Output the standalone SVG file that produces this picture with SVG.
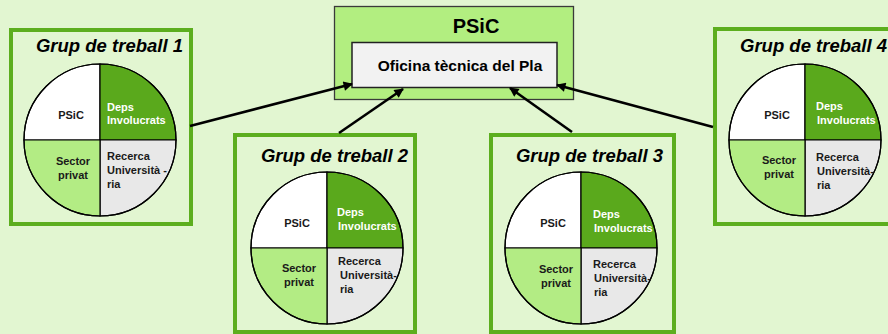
<svg xmlns="http://www.w3.org/2000/svg" width="888" height="334" viewBox="0 0 888 334">
<defs>
<style>
.grp{fill:none;stroke:#5cae1e;stroke-width:4}
.title{font-family:"Liberation Sans",Arial,sans-serif;font-weight:bold;font-style:italic;font-size:18.5px;fill:#000}
.lbl{font-family:"Liberation Sans",Arial,sans-serif;font-weight:bold;font-size:11px;fill:#1a1a1a}
.lblw{font-family:"Liberation Sans",Arial,sans-serif;font-weight:bold;font-size:11px;fill:#fff}
.q{stroke:#000;stroke-width:1.2}
.conn{stroke:#000;stroke-width:2.6;fill:none;marker-end:url(#ah)}
</style>
<marker id="ah" viewBox="0 0 10 10" refX="9" refY="5" markerWidth="4.2" markerHeight="3.6" orient="auto" markerUnits="strokeWidth">
<path d="M0,0 L10,5 L0,10 z" fill="#000"/>
</marker>
<g id="pie">
<path class="q" d="M0,0 L-76,0 A76,76 0 0 1 0,-76 Z" fill="#ffffff"/>
<path class="q" d="M0,0 L0,-76 A76,76 0 0 1 76,0 Z" fill="#5aa91c"/>
<path class="q" d="M0,0 L76,0 A76,76 0 0 1 0,76 Z" fill="#e8e8e8"/>
<path class="q" d="M0,0 L0,76 A76,76 0 0 1 -76,0 Z" fill="#b3ec84"/>
<circle r="76" fill="none" stroke="#000" stroke-width="1.2"/>
</g>
</defs>
<rect width="888" height="334" fill="#e2f6d1"/>

<g id="psic">
<rect x="334.5" y="6.5" width="239" height="93" fill="#b2ee80" stroke="#3a3a3a" stroke-width="1.3"/>
<text x="476" y="33" text-anchor="middle" font-family="'Liberation Sans',Arial,sans-serif" font-weight="bold" font-size="20" fill="#000">PSiC</text>
</g>
<g id="oficina">
<rect x="352" y="42.5" width="205" height="45" fill="#f2f2f2" stroke="#222" stroke-width="1.5"/>
<text x="460" y="71" text-anchor="middle" font-family="'Liberation Sans',Arial,sans-serif" font-weight="bold" font-size="15.5" fill="#000">Oficina tècnica del Pla</text>
</g>

<g id="grup1">
<rect class="grp" x="11" y="30" width="180" height="194"/>
<text class="title" x="183" y="52" text-anchor="end">Grup de treball 1</text>
<use href="#pie" x="100" y="140"/>
<text class="lbl" x="71" y="119" text-anchor="middle">PSiC</text>
<text class="lblw" x="107" y="111">Deps</text>
<text class="lblw" x="107" y="124">Involucrats</text>
<text class="lbl" x="73" y="165" text-anchor="middle">Sector</text>
<text class="lbl" x="73" y="179" text-anchor="middle">privat</text>
<text class="lbl" x="107" y="160">Recerca</text>
<text class="lbl" x="107" y="174">Università -</text>
<text class="lbl" x="107" y="188">ria</text>
</g>

<g id="grup2">
<rect class="grp" x="235" y="135" width="180" height="197"/>
<text class="title" x="408" y="162" text-anchor="end">Grup de treball 2</text>
<use href="#pie" x="327" y="248"/>
<text class="lbl" x="297" y="227" text-anchor="middle">PSiC</text>
<text class="lblw" x="337" y="216">Deps</text>
<text class="lblw" x="338" y="230">Involucrats</text>
<text class="lbl" x="299" y="272" text-anchor="middle">Sector</text>
<text class="lbl" x="299" y="286" text-anchor="middle">privat</text>
<text class="lbl" x="338" y="265">Recerca</text>
<text class="lbl" x="340" y="279">Università-</text>
<text class="lbl" x="340" y="293">ria</text>
</g>

<g id="grup3">
<rect class="grp" x="491" y="135" width="183" height="197"/>
<text class="title" x="663" y="162" text-anchor="end">Grup de treball 3</text>
<use href="#pie" x="581" y="248"/>
<text class="lbl" x="553" y="227" text-anchor="middle">PSiC</text>
<text class="lblw" x="593" y="218">Deps</text>
<text class="lblw" x="594" y="232">Involucrats</text>
<text class="lbl" x="556" y="273" text-anchor="middle">Sector</text>
<text class="lbl" x="556" y="287" text-anchor="middle">privat</text>
<text class="lbl" x="593" y="268">Recerca</text>
<text class="lbl" x="594" y="282">Università-</text>
<text class="lbl" x="594" y="296">ria</text>
</g>

<g id="grup4">
<rect class="grp" x="715" y="29" width="183" height="195"/>
<text class="title" x="740" y="52">Grup de treball 4</text>
<use href="#pie" x="805" y="140"/>
<text class="lbl" x="777" y="119" text-anchor="middle">PSiC</text>
<text class="lblw" x="816" y="110">Deps</text>
<text class="lblw" x="817" y="124">Involucrats</text>
<text class="lbl" x="779" y="164" text-anchor="middle">Sector</text>
<text class="lbl" x="779" y="178" text-anchor="middle">privat</text>
<text class="lbl" x="816" y="161">Recerca</text>
<text class="lbl" x="817" y="175">Università-</text>
<text class="lbl" x="817" y="189">ria</text>
</g>

<g id="connectors">
<line class="conn" x1="190" y1="126" x2="352" y2="84"/>
<line class="conn" x1="339" y1="133" x2="403" y2="89"/>
<line class="conn" x1="572" y1="132" x2="510" y2="88"/>
<line class="conn" x1="713" y1="127" x2="557" y2="85"/>
</g>
</svg>
